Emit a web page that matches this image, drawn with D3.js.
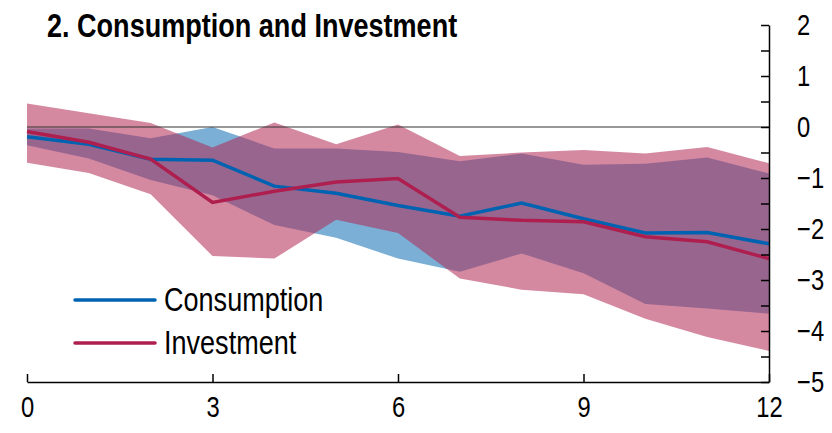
<!DOCTYPE html>
<html>
<head>
<meta charset="utf-8">
<script src="https://cdn.jsdelivr.net/npm/d3@7"></script>
<style>
  body { margin: 0; background: #fff; }
  svg { display: block; font-family: "Liberation Sans", Arial, sans-serif; }
  .axis path, .axis line { stroke: #000; stroke-width: 1.5; }
  .axis text { fill: #000; font-size: 29px; }
</style>
</head>
<body>
<script>
const months = [0, 1, 2, 3, 4, 5, 6, 7, 8, 9, 10, 11, 12];
const consumption = [-0.19, -0.34, -0.63, -0.65, -1.16, -1.3, -1.54, -1.75, -1.49, -1.8, -2.08, -2.07, -2.29];
const consumptionHigh = [-0.03, -0.03, -0.22, 0.0, -0.42, -0.42, -0.49, -0.67, -0.52, -0.74, -0.72, -0.6, -0.91];
const consumptionLow = [-0.36, -0.62, -1.04, -1.34, -1.92, -2.17, -2.58, -2.84, -2.48, -2.87, -3.47, -3.56, -3.66];
const investment = [-0.09, -0.3, -0.63, -1.48, -1.26, -1.08, -1.01, -1.77, -1.83, -1.86, -2.15, -2.25, -2.58];
const investmentHigh = [0.46, 0.27, 0.08, -0.4, 0.09, -0.34, 0.05, -0.57, -0.5, -0.45, -0.52, -0.39, -0.71];
const investmentLow = [-0.7, -0.9, -1.32, -2.53, -2.58, -1.82, -2.08, -2.97, -3.19, -3.28, -3.76, -4.12, -4.39];
const xTicks = [0, 3, 6, 9, 12];
const yTicks = [2, 1, 0, -1, -2, -3, -4, -5];

const width = 832, height = 433;
const narrow = 0.82; // stand-in for Arial Narrow
const svg = d3.select("body").append("svg")
  .attr("width", width)
  .attr("height", height);

const x = d3.scaleLinear().domain([0, 12]).range([27, 769]);
const y = d3.scaleLinear().domain([-5, 2]).range([382, 25]);

const band = (lo, hi) => d3.area()
  .x((d, i) => x(months[i]))
  .y0((d, i) => y(lo[i]))
  .y1((d, i) => y(hi[i]))(months);

const line = vals => d3.line()
  .x((d, i) => x(months[i]))
  .y((d, i) => y(vals[i]))(months);

svg.append("path")
  .attr("d", band(consumptionLow, consumptionHigh))
  .attr("fill", "#7bafd6");

svg.append("path")
  .attr("d", band(investmentLow, investmentHigh))
  .attr("fill", "rgb(176,40,84)")
  .attr("fill-opacity", 0.55);

svg.append("line")
  .attr("x1", x(0)).attr("x2", x(12))
  .attr("y1", y(0)).attr("y2", y(0))
  .attr("stroke", "#333")
  .attr("stroke-width", 1.2);

svg.append("path")
  .attr("d", line(consumption))
  .attr("fill", "none")
  .attr("stroke", "#0063b1")
  .attr("stroke-width", 3.5);

svg.append("path")
  .attr("d", line(investment))
  .attr("fill", "none")
  .attr("stroke", "#ae1f4f")
  .attr("stroke-width", 3.5);

// axes
const halfTicks = d3.range(-5, 2.01, 0.5);
const yAxis = svg.append("g")
  .attr("class", "axis")
  .attr("transform", `translate(${x(12)},0)`)
  .call(d3.axisRight(y)
    .tickValues(halfTicks)
    .tickSizeInner(-8)
    .tickSizeOuter(0)
    .tickPadding(28)
    .tickFormat(d => yTicks.includes(d) ? d3.format("d")(d) : ""));
yAxis.selectAll("text")
  .attr("x", null)
  .attr("transform", `translate(28,0) scale(${narrow},1)`);

const xAxis = svg.append("g")
  .attr("class", "axis")
  .attr("transform", `translate(0,${y(-5)})`)
  .call(d3.axisBottom(x)
    .tickValues(xTicks)
    .tickSizeInner(-8)
    .tickSizeOuter(0)
    .tickPadding(14));
xAxis.selectAll("text").attr("transform", `scale(${narrow},1)`);

// title
svg.append("text")
  .attr("transform", `translate(47,37) scale(${narrow},1)`)
  .attr("font-size", 33)
  .attr("font-weight", "bold")
  .text("2. Consumption and Investment");

// legend
const legend = [
  { name: "Consumption", color: "#0063b1" },
  { name: "Investment", color: "#ae1f4f" }
];
const lg = svg.append("g").selectAll("g").data(legend).join("g")
  .attr("transform", (d, i) => `translate(75,${300 + i * 43})`);
lg.append("line")
  .attr("x1", 0).attr("x2", 80)
  .attr("stroke", d => d.color)
  .attr("stroke-width", 3.5)
  .attr("stroke-linecap", "round");
lg.append("text")
  .attr("transform", `translate(89,11) scale(${narrow},1)`)
  .attr("font-size", 33)
  .text(d => d.name);
</script>
</body>
</html>
